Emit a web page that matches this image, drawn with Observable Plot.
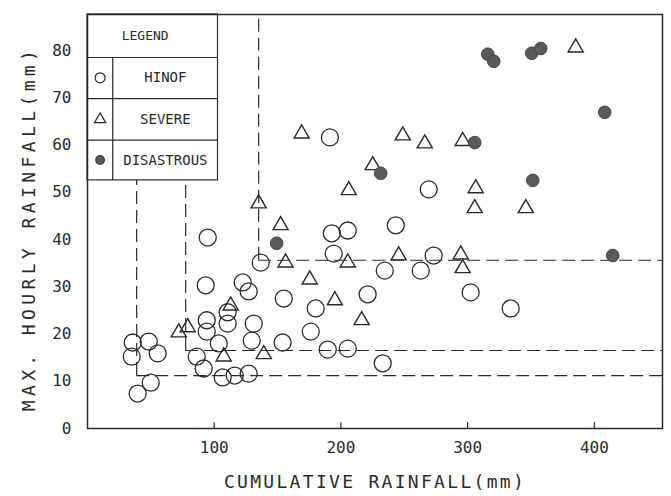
<!DOCTYPE html>
<html><head><meta charset="utf-8">
<script src="https://cdn.jsdelivr.net/npm/d3@7"></script>
<script src="https://cdn.jsdelivr.net/npm/@observablehq/plot@0.6"></script>
<style>body{margin:0;background:#fff} #chart svg{font-family:"DejaVu Sans Mono",monospace;}</style>
</head><body><div id="chart"></div>
<script>
// ---- data (cumulative rainfall mm, max hourly rainfall mm) ----
const categories = ["HINOF", "SEVERE", "DISASTROUS"];

const minorX = [191.3,269.3,243.3,192.8,205.4,94.9,136.7,194.3,273.2,234.6,263.0,302.4,334.0,221.1,180.1,176.2,154.0,189.6,205.4,233.0,93.3,122.5,127.2,154.9,94.1,94.1,110.6,110.6,131.2,129.6,103.6,86.2,91.7,106.7,116.2,127.2,35.7,34.9,48.3,55.4,49.9,39.6];
const minorY = [61.6,50.6,43.0,41.3,41.9,40.4,35.1,37.0,36.6,33.4,33.4,28.8,25.4,28.4,25.4,20.5,18.2,16.7,16.9,13.8,30.3,30.9,29.0,27.5,22.9,20.5,24.6,22.2,22.2,18.6,18.0,15.2,12.7,10.8,11.2,11.6,18.2,15.2,18.4,15.9,9.7,7.4];

const severeX = [385.3,169.0,248.8,266.2,296.1,225.1,206.2,306.4,305.6,345.9,135.1,152.4,156.3,175.4,195.2,216.4,205.4,245.6,294.6,296.1,72.0,113.0,139.1,107.5,79.1];
const severeY = [80.6,62.4,62.0,60.3,60.8,55.7,50.4,50.8,46.6,46.6,47.6,43.0,35.1,31.5,27.1,22.9,35.1,36.6,36.8,33.9,20.3,26.0,15.7,15.2,21.4];

const disastrousX = [315.9,320.6,350.6,357.7,408.2,305.6,231.4,351.4,149.3,414.5];
const disastrousY = [79.2,77.7,79.4,80.4,66.9,60.5,54.0,52.5,39.2,36.6];

const xTicks = [100, 200, 300, 400];
const yTicks = [0, 10, 20, 30, 40, 50, 60, 70, 80];
const xLabel = "CUMULATIVE RAINFALL(mm)";
const yLabel = "MAX. HOURLY RAINFALL(mm)";

// threshold (dashed) lines in data units
const vLineX  = [38.8, 77.5, 135.1];
const vLineY1 = [11.2, 16.5, 35.6];
const vLineY2 = [52.5, 52.5, 87.6];
const hLineY  = [11.2, 16.5, 35.6];
const hLineX1 = [38.8, 77.5, 135.1];

// ---- build tables ----
const pts = [
  ...minorX.map((x, i) => ({x, y: minorY[i], c: categories[0]})),
  ...severeX.map((x, i) => ({x, y: severeY[i], c: categories[1]})),
  ...disastrousX.map((x, i) => ({x, y: disastrousY[i], c: categories[2]}))
];
const vLines = vLineX.map((x, i) => ({x, y1: vLineY1[i], y2: vLineY2[i]}));
const hLines = hLineY.map((y, i) => ({y, x1: hLineX1[i]}));

const X_MAX = 453.8, Y_MAX = 87.6;
// legend layout (data units)
const LG = {x1: 0, x2: 103, y1: 52.5, y2: Y_MAX, col: 19.9, rows: [78.5, 69.8, 61.0]};
const rowCenters = [74.2, 65.4, 56.8];
const legendItems = categories.map((c, i) => ({c, y: rowCenters[i]}));

const ink = "#2a2a2a";

const chart = Plot.plot({
  width: 671, height: 496,
  marginLeft: 87, marginRight: 9, marginTop: 14, marginBottom: 68,
  x: {domain: [0, X_MAX]},
  y: {domain: [0, Y_MAX]},
  style: {background: "#fff", color: ink},
  marks: [
    // threshold dashed lines
    Plot.ruleX(vLines, {x: "x", y1: "y1", y2: "y2", stroke: ink, strokeWidth: 1.2, strokeDasharray: "13,6"}),
    Plot.ruleY(hLines, {y: "y", x1: "x1", x2: X_MAX, stroke: ink, strokeWidth: 1.2, strokeDasharray: "13,6"}),
    // data
    Plot.dot(pts.filter(d => d.c === categories[0]), {x: "x", y: "y", r: 8.5, symbol: "circle", stroke: ink, strokeWidth: 1.3, fill: "none"}),
    Plot.dot(pts.filter(d => d.c === categories[1]), {x: "x", y: "y", r: 5.6, symbol: "triangle", stroke: ink, strokeWidth: 1.4, fill: "none"}),
    Plot.dot(pts.filter(d => d.c === categories[2]), {x: "x", y: "y", r: 6.3, symbol: "circle", stroke: "#444", strokeWidth: 1, fill: "#5a5a5a"}),
    // legend
    Plot.rect([LG], {x1: "x1", x2: "x2", y1: "y1", y2: "y2", fill: "#fff", stroke: ink, strokeWidth: 1.2}),
    Plot.ruleY(LG.rows, {x1: LG.x1, x2: LG.x2, stroke: ink, strokeWidth: 1.2}),
    Plot.ruleX([LG.col], {y1: LG.y1, y2: LG.rows[0], stroke: ink, strokeWidth: 1.2}),
    Plot.text(["LEGEND"], {x: (LG.x1 + LG.x2) / 2 - 6, y: (LG.y2 + LG.rows[0]) / 2, fontSize: 13, fill: ink}),
    Plot.text(legendItems, {x: (LG.col + LG.x2) / 2, y: "y", text: "c", fontSize: 14, fill: ink}),
    Plot.dot(legendItems.filter(d => d.c === categories[0]), {x: LG.col / 2, y: "y", r: 5, stroke: ink, strokeWidth: 1.2, fill: "none"}),
    Plot.dot(legendItems.filter(d => d.c === categories[1]), {x: LG.col / 2, y: "y", r: 4.2, symbol: "triangle", stroke: ink, strokeWidth: 1.2, fill: "none"}),
    Plot.dot(legendItems.filter(d => d.c === categories[2]), {x: LG.col / 2, y: "y", r: 4.2, fill: "#5a5a5a", stroke: "#444"}),
    // frame, axes
    Plot.frame({stroke: ink, strokeWidth: 1.5}),
    Plot.ruleX(xTicks, {y1: 0, y2: 1.2, stroke: ink, strokeWidth: 1.2}),
    Plot.axisX({ticks: xTicks, tickSize: 0, tickPadding: 13, fontSize: 16, label: null}),
    Plot.axisY({ticks: yTicks, tickSize: 0, tickPadding: 16, fontSize: 16, label: null}),
    Plot.text([xLabel], {frameAnchor: "bottom", dy: 59, fontSize: 18, fill: ink}),
    Plot.text([yLabel], {frameAnchor: "left", textAnchor: "middle", rotate: -90, dx: -58, dy: 7, fontSize: 18, fill: ink})
  ]
});
document.getElementById("chart").append(chart);
d3.select(chart).selectAll("text")
  .filter(function(){ return this.textContent === xLabel; }).style("letter-spacing", "2.3px");
d3.select(chart).selectAll("text")
  .filter(function(){ return this.textContent === yLabel; }).style("letter-spacing", "4.4px");
</script>
</body></html>
